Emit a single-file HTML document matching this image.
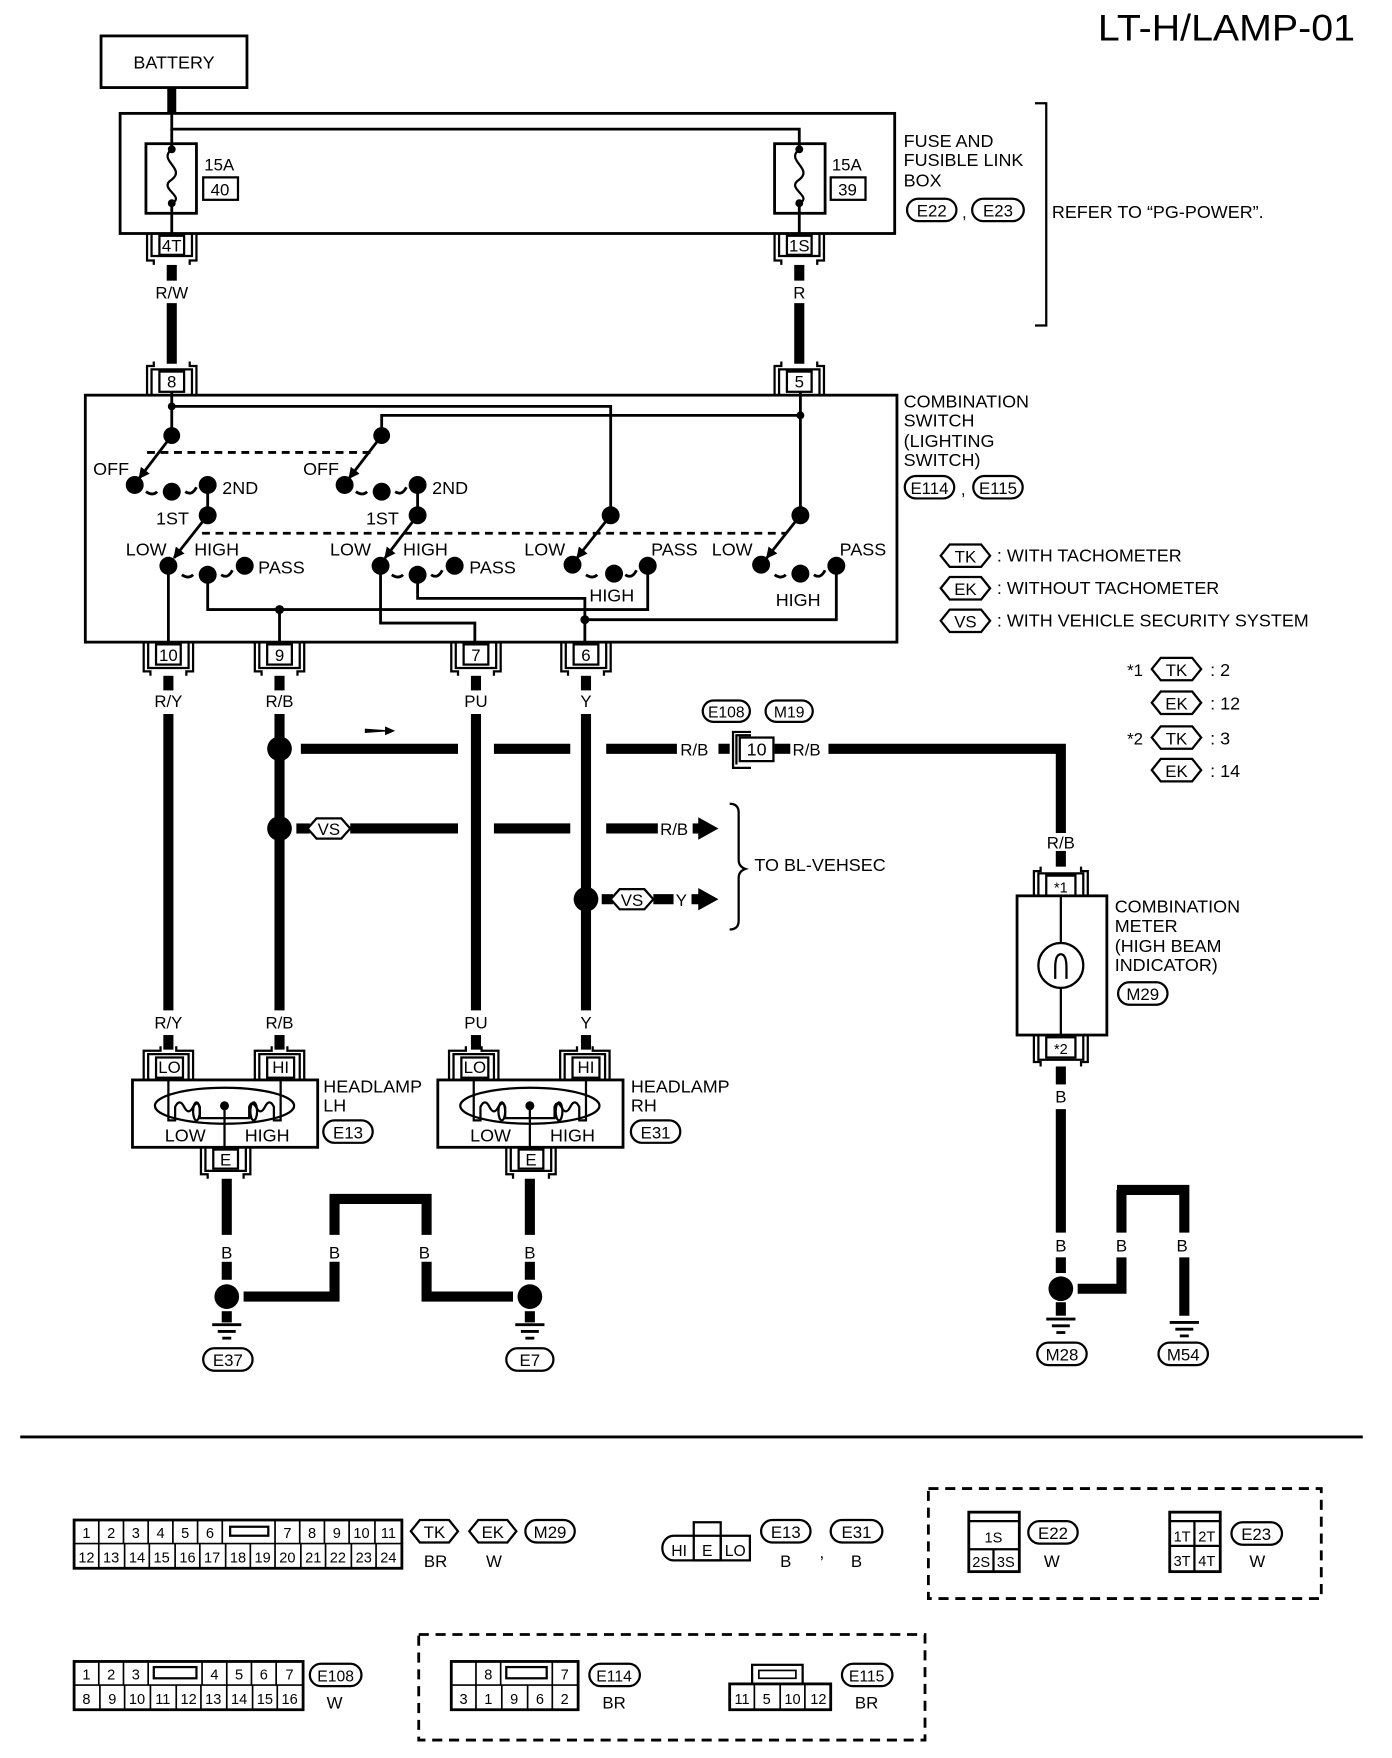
<!DOCTYPE html>
<html><head><meta charset="utf-8"><style>
html,body{margin:0;padding:0;background:#fff;}
svg{display:block;}
text{font-family:"Liberation Sans",sans-serif;fill:#000;}
</style></head><body>
<svg width="1392" height="1758" viewBox="0 0 1240 1566" preserveAspectRatio="none" xmlns="http://www.w3.org/2000/svg">
<defs><marker id="ah" viewBox="0 0 10 10" refX="9" refY="5" markerWidth="4" markerHeight="4" orient="auto"><path d="M0,0 L10,5 L0,10 z" fill="#000"/></marker></defs>
<g font-size="15">
<text x="978" y="36" font-size="33" textLength="229" lengthAdjust="spacingAndGlyphs">LT-H/LAMP-01</text>

<!-- battery -->
<rect x="90" y="32" width="130" height="46" fill="none" stroke="#000" stroke-width="2.5"/>
<text x="155" y="61" text-anchor="middle" font-size="16">BATTERY</text>
<line x1="153" y1="78" x2="153" y2="102" stroke="#000" stroke-width="8"/>

<!-- fuse box -->
<rect x="107" y="101" width="690" height="107" fill="none" stroke="#000" stroke-width="2.5"/>
<polyline points="153,102 153,115 712,115 712,133" fill="none" stroke="#000" stroke-width="2.5"/>
<line x1="153" y1="115" x2="153" y2="133" stroke="#000" stroke-width="2.5"/>
<rect x="130" y="128" width="45" height="62" fill="none" stroke="#000" stroke-width="2.5"/>
<rect x="690" y="128" width="45" height="62" fill="none" stroke="#000" stroke-width="2.5"/>
<path d="M153,133 C140,143 166,150 153,160 C140,168 166,175 153,181" fill="none" stroke="#000" stroke-width="2"/>
<path d="M712,133 C699,143 725,150 712,160 C699,168 725,175 712,181" fill="none" stroke="#000" stroke-width="2"/>
<circle cx="153" cy="133" r="3.5"/><circle cx="153" cy="181" r="3.5"/>
<circle cx="712" cy="133" r="3.5"/><circle cx="712" cy="181" r="3.5"/>
<line x1="153" y1="181" x2="153" y2="210" stroke="#000" stroke-width="2.5"/>
<line x1="712" y1="181" x2="712" y2="210" stroke="#000" stroke-width="2.5"/>
<text x="182" y="152">15A</text><rect x="181" y="158" width="31" height="20" fill="none" stroke="#000" stroke-width="2"/><text x="196" y="174" text-anchor="middle">40</text>
<text x="741" y="152">15A</text><rect x="740" y="158" width="31" height="20" fill="none" stroke="#000" stroke-width="2"/><text x="755" y="174" text-anchor="middle">39</text>
<text x="805" y="131" font-size="16">FUSE AND</text>
<text x="805" y="148" font-size="16">FUSIBLE LINK</text>
<text x="805" y="166" font-size="16">BOX</text>
<rect x="808" y="177" width="44" height="20" rx="10" fill="none" stroke="#000" stroke-width="2"/><text x="830" y="193" text-anchor="middle">E22</text>
<text x="857" y="194">,</text>
<rect x="866" y="177" width="46" height="20" rx="10" fill="none" stroke="#000" stroke-width="2"/><text x="889" y="193" text-anchor="middle">E23</text>
<polyline points="922,92 932,92 932,290 922,290" fill="none" stroke="#000" stroke-width="2"/>
<text x="937" y="194" font-size="16">REFER TO “PG-POWER”.</text>

<!-- connectors 4T / 1S -->
<g fill="none" stroke="#000" stroke-width="2">
<rect x="142" y="210" width="22" height="17"/><polyline points="131,208 131,232 137,232 137,236"/><polyline points="175,208 175,232 169,232 169,236"/><polyline points="135,208 135,228 171,228 171,208"/>
<rect x="701" y="210" width="22" height="17"/><polyline points="690,208 690,232 696,232 696,236"/><polyline points="734,208 734,232 728,232 728,236"/><polyline points="694,208 694,228 730,228 730,208"/>
</g>
<text x="153" y="224" text-anchor="middle">4T</text><text x="712" y="224" text-anchor="middle">1S</text>
<g stroke="#000" stroke-width="9">
<line x1="153" y1="236" x2="153" y2="250"/><line x1="153" y1="270" x2="153" y2="324"/>
<line x1="712" y1="236" x2="712" y2="250"/><line x1="712" y1="270" x2="712" y2="324"/>
</g>
<text x="153" y="266" text-anchor="middle">R/W</text><text x="712" y="266" text-anchor="middle">R</text>
<!-- connectors 8 / 5 -->
<g fill="none" stroke="#000" stroke-width="2">
<rect x="142" y="331" width="22" height="18"/><polyline points="131,352 131,326 137,326 137,322"/><polyline points="175,352 175,326 169,326 169,322"/><polyline points="135,352 135,329 171,329 171,352"/>
<rect x="701" y="331" width="22" height="18"/><polyline points="690,352 690,326 696,326 696,322"/><polyline points="734,352 734,326 728,326 728,322"/><polyline points="694,352 694,329 730,329 730,352"/>
</g>
<text x="153" y="345" text-anchor="middle">8</text><text x="712" y="345" text-anchor="middle">5</text>

<!-- combination switch -->
<rect x="76" y="352" width="723" height="220" fill="none" stroke="#000" stroke-width="2.5"/>
<g fill="none" stroke="#000" stroke-width="2.5">
<polyline points="153,349 153,388"/>
<polyline points="153,362 544,362 544,459"/>
<polyline points="340,388 340,370 713,370"/>
<polyline points="713,349 713,459"/>
<line x1="185" y1="432" x2="185" y2="459"/>
<line x1="372" y1="432" x2="372" y2="459"/>
<line x1="150" y1="504" x2="150" y2="574"/>
<polyline points="185,512 185,543 577,543 577,504"/>
<line x1="249" y1="543" x2="249" y2="574"/>
<polyline points="339,504 339,555 423,555 423,574"/>
<polyline points="372,512 372,533 521,533 521,574"/>
<polyline points="521,552 745,552 745,504"/>
</g>
<g fill="none" stroke="#000" stroke-width="2.5" marker-end="url(#ah)">
<line x1="153" y1="388" x2="124" y2="426"/>
<line x1="340" y1="388" x2="311" y2="426"/>
<line x1="185" y1="459" x2="155" y2="497"/>
<line x1="372" y1="459" x2="343" y2="497"/>
<line x1="544" y1="459" x2="514" y2="497"/>
<line x1="713" y1="459" x2="683" y2="497"/>
</g>
<g fill="none" stroke="#000" stroke-width="2.5" stroke-dasharray="7,5">
<line x1="131" y1="403" x2="332" y2="403"/>
<line x1="180" y1="475" x2="700" y2="475"/>
</g>
<g fill="none" stroke="#000" stroke-width="2.5">
<path d="M130,438 q6,4 10,0 M165,438 q6,4 10,-4"/>
<path d="M317,438 q6,4 10,0 M352,438 q6,4 10,-4"/>
<path d="M162,512 q6,4 10,0 M197,512 q6,4 10,-4"/>
<path d="M349,512 q6,4 10,0 M384,512 q6,4 10,-4"/>
<path d="M522,512 q6,4 10,0 M557,512 q6,4 10,-4"/>
<path d="M690,512 q6,4 10,0 M725,512 q6,4 10,-4"/>
</g>
<g>
<circle cx="153" cy="388" r="7.5"/><circle cx="340" cy="388" r="7.5"/>
<circle cx="153" cy="362" r="3.5"/><circle cx="713" cy="370" r="3.5"/>
<circle cx="120" cy="432" r="8"/><circle cx="153" cy="438" r="8"/><circle cx="185" cy="432" r="8"/>
<circle cx="307" cy="432" r="8"/><circle cx="340" cy="438" r="8"/><circle cx="372" cy="432" r="8"/>
<circle cx="185" cy="459" r="8"/><circle cx="372" cy="459" r="8"/><circle cx="544" cy="459" r="8"/><circle cx="713" cy="459" r="8"/>
<circle cx="150" cy="504" r="8"/><circle cx="185" cy="512" r="8"/><circle cx="218" cy="504" r="8"/>
<circle cx="339" cy="504" r="8"/><circle cx="372" cy="512" r="8"/><circle cx="405" cy="504" r="8"/>
<circle cx="510" cy="503" r="8"/><circle cx="547" cy="511" r="8"/><circle cx="577" cy="504" r="8"/>
<circle cx="678" cy="503" r="8"/><circle cx="713" cy="511" r="8"/><circle cx="745" cy="504" r="8"/>
<circle cx="249" cy="543" r="4"/><circle cx="521" cy="552" r="4"/>
</g>
<g font-size="16">
<text x="83" y="423">OFF</text><text x="198" y="440">2ND</text><text x="139" y="467">1ST</text>
<text x="270" y="423">OFF</text><text x="385" y="440">2ND</text><text x="326" y="467">1ST</text>
<text x="112" y="495">LOW</text><text x="173" y="495">HIGH</text><text x="230" y="511">PASS</text>
<text x="294" y="495">LOW</text><text x="359" y="495">HIGH</text><text x="418" y="511">PASS</text>
<text x="467" y="495">LOW</text><text x="580" y="495">PASS</text><text x="525" y="536">HIGH</text>
<text x="634" y="495">LOW</text><text x="748" y="495">PASS</text><text x="691" y="540">HIGH</text>
</g>
<text x="805" y="363" font-size="16">COMBINATION</text>
<text x="805" y="380" font-size="16">SWITCH</text>
<text x="805" y="398" font-size="16">(LIGHTING</text>
<text x="805" y="415" font-size="16">SWITCH)</text>
<rect x="806" y="424" width="44" height="20" rx="10" fill="none" stroke="#000" stroke-width="2"/><text x="828" y="440" text-anchor="middle">E114</text>
<text x="856" y="441">,</text>
<rect x="867" y="424" width="44" height="20" rx="10" fill="none" stroke="#000" stroke-width="2"/><text x="889" y="440" text-anchor="middle">E115</text>

<!-- legend -->
<g fill="none" stroke="#000" stroke-width="2">
<polygon points="838,495 846,485 874,485 882,495 874,505 846,505"/>
<polygon points="838,524 846,514 874,514 882,524 874,534 846,534"/>
<polygon points="838,553 846,543 874,543 882,553 874,563 846,563"/>
</g>
<text x="860" y="501" text-anchor="middle">TK</text><text x="860" y="530" text-anchor="middle">EK</text><text x="860" y="559" text-anchor="middle">VS</text>
<text x="888" y="500" font-size="16">: WITH TACHOMETER</text>
<text x="888" y="529" font-size="16">: WITHOUT TACHOMETER</text>
<text x="888" y="558" font-size="16">: WITH VEHICLE SECURITY SYSTEM</text>
<g fill="none" stroke="#000" stroke-width="2">
<polygon points="1026,596 1034,586 1062,586 1070,596 1062,606 1034,606"/>
<polygon points="1026,626 1034,616 1062,616 1070,626 1062,636 1034,636"/>
<polygon points="1026,657 1034,647 1062,647 1070,657 1062,667 1034,667"/>
<polygon points="1026,686 1034,676 1062,676 1070,686 1062,696 1034,696"/>
</g>
<text x="1048" y="602" text-anchor="middle">TK</text><text x="1048" y="632" text-anchor="middle">EK</text>
<text x="1048" y="663" text-anchor="middle">TK</text><text x="1048" y="692" text-anchor="middle">EK</text>
<text x="1004" y="602">*1</text><text x="1078" y="602" font-size="16">:  2</text>
<text x="1078" y="632" font-size="16">: 12</text>
<text x="1004" y="663">*2</text><text x="1078" y="663" font-size="16">:  3</text>
<text x="1078" y="692" font-size="16">: 14</text>

<!-- bottom connectors of switch -->
<g fill="none" stroke="#000" stroke-width="2">
<rect x="139" y="574" width="22" height="18"/><polyline points="128,572 128,598 134,598 134,602"/><polyline points="172,572 172,598 166,598 166,602"/><polyline points="132,572 132,595 168,595 168,572"/>
<rect x="238" y="574" width="22" height="18"/><polyline points="227,572 227,598 233,598 233,602"/><polyline points="271,572 271,598 265,598 265,602"/><polyline points="231,572 231,595 267,595 267,572"/>
<rect x="413" y="574" width="22" height="18"/><polyline points="402,572 402,598 408,598 408,602"/><polyline points="446,572 446,598 440,598 440,602"/><polyline points="406,572 406,595 442,595 442,572"/>
<rect x="511" y="574" width="22" height="18"/><polyline points="500,572 500,598 506,598 506,602"/><polyline points="544,572 544,598 538,598 538,602"/><polyline points="504,572 504,595 540,595 540,572"/>
</g>
<text x="150" y="589" text-anchor="middle">10</text><text x="249" y="589" text-anchor="middle">9</text><text x="424" y="589" text-anchor="middle">7</text><text x="522" y="589" text-anchor="middle">6</text>
<text x="150" y="630" text-anchor="middle">R/Y</text><text x="249" y="630" text-anchor="middle">R/B</text><text x="424" y="630" text-anchor="middle">PU</text><text x="522" y="630" text-anchor="middle">Y</text>
<text x="150" y="916" text-anchor="middle">R/Y</text><text x="249" y="916" text-anchor="middle">R/B</text><text x="424" y="916" text-anchor="middle">PU</text><text x="522" y="916" text-anchor="middle">Y</text>

<g stroke="#000" stroke-width="9" fill="none">
<line x1="150" y1="602" x2="150" y2="615"/><line x1="150" y1="636" x2="150" y2="900"/>
<line x1="249" y1="602" x2="249" y2="615"/><line x1="249" y1="636" x2="249" y2="900"/>
<line x1="424" y1="602" x2="424" y2="615"/><line x1="424" y1="636" x2="424" y2="900"/>
<line x1="522" y1="602" x2="522" y2="615"/><line x1="522" y1="636" x2="522" y2="900"/>
<line x1="268" y1="667" x2="408" y2="667"/><line x1="440" y1="667" x2="508" y2="667"/><line x1="540" y1="667" x2="603" y2="667"/>
<line x1="640" y1="667" x2="650" y2="667"/><line x1="690" y1="667" x2="704" y2="667"/>
<polyline points="738,667 945,667 945,742"/>
<line x1="945" y1="758" x2="945" y2="772"/>
<line x1="264" y1="738" x2="276" y2="738"/><line x1="312" y1="738" x2="408" y2="738"/><line x1="440" y1="738" x2="508" y2="738"/><line x1="540" y1="738" x2="586" y2="738"/>
<line x1="617" y1="738" x2="624" y2="738"/>
<line x1="536" y1="801" x2="546" y2="801"/><line x1="582" y1="801" x2="600" y2="801"/><line x1="616" y1="801" x2="624" y2="801"/>
</g>
<polygon points="622,728 640,738 622,748"/>
<polygon points="622,791 640,801 622,811"/>
<polygon points="325,649 352,651 325,653"/><polygon points="343,647 352,651 343,655"/>
<circle cx="249" cy="667" r="11"/><circle cx="249" cy="738" r="11"/><circle cx="522" cy="801" r="11"/>
<g fill="#fff" stroke="#000" stroke-width="2">
<polygon points="274,738 282,729 304,729 312,738 304,747 282,747"/>
<polygon points="544,801 552,792 574,792 582,801 574,810 552,810"/>
</g>
<text x="293" y="744" text-anchor="middle">VS</text><text x="563" y="807" text-anchor="middle">VS</text>
<text x="606" y="673">R/B</text><text x="706" y="673">R/B</text><text x="588" y="744">R/B</text><text x="602" y="807">Y</text>
<g fill="none" stroke="#000" stroke-width="2">
<rect x="659" y="657" width="30" height="21"/><polyline points="669,652 653,652 653,684 669,684"/><polyline points="669,655 656,655 656,681"/>
<rect x="626" y="624" width="42" height="19" rx="9.5"/><rect x="682" y="624" width="42" height="19" rx="9.5"/>
<path d="M650,716 q8,0 8,8 v42 q0,6 6,8 q-6,2 -6,8 v38 q0,8 -8,8"/>
</g>
<text x="674" y="673" text-anchor="middle" font-size="16">10</text>
<text x="647" y="639" text-anchor="middle" font-size="14">E108</text><text x="703" y="639" text-anchor="middle" font-size="14">M19</text>
<text x="672" y="776" font-size="16">TO BL-VEHSEC</text>

<!-- combination meter -->
<text x="945" y="756" text-anchor="middle">R/B</text>
<g fill="none" stroke="#000" stroke-width="2">
<rect x="932" y="780" width="26" height="18"/><polyline points="921,798 921,776 927,776 927,772"/><polyline points="969,798 969,776 963,776 963,772"/><polyline points="925,798 925,778 965,778 965,798"/>
<rect x="906" y="798" width="80" height="124" stroke-width="2.5"/>
<circle cx="945" cy="860" r="20"/>
<path d="M940,872 v-10 q0,-12 5,-12 q5,0 5,12 v10" stroke-width="2"/>
<line x1="945" y1="798" x2="945" y2="840"/><line x1="945" y1="880" x2="945" y2="922"/>
<rect x="932" y="924" width="26" height="18"/><polyline points="921,922 921,946 927,946 927,950"/><polyline points="969,922 969,946 963,946 963,950"/><polyline points="925,922 925,944 965,944 965,922"/>
</g>
<text x="945" y="795" text-anchor="middle" font-size="13">*1</text><text x="945" y="939" text-anchor="middle" font-size="13">*2</text>
<text x="993" y="813" font-size="16">COMBINATION</text><text x="993" y="830" font-size="16">METER</text>
<text x="993" y="848" font-size="16">(HIGH BEAM</text><text x="993" y="865" font-size="16">INDICATOR)</text>
<rect x="996" y="875" width="44" height="20" rx="10" fill="none" stroke="#000" stroke-width="2"/><text x="1018" y="891" text-anchor="middle">M29</text>
<text x="945" y="982" text-anchor="middle">B</text>
<g stroke="#000" stroke-width="9" fill="none">
<line x1="945" y1="950" x2="945" y2="966"/><line x1="945" y1="988" x2="945" y2="1098"/><line x1="945" y1="1120" x2="945" y2="1134"/>
<polyline points="960,1148 999,1148 999,1120"/><line x1="999" y1="1098" x2="999" y2="1060"/>
<polyline points="995,1060 1055,1060 1055,1098"/><line x1="1055" y1="1120" x2="1055" y2="1172"/>
<line x1="945" y1="1160" x2="945" y2="1172"/>
</g>
<circle cx="945" cy="1148" r="11"/>
<text x="945" y="1115" text-anchor="middle">B</text><text x="999" y="1115" text-anchor="middle">B</text><text x="1053" y="1115" text-anchor="middle">B</text>
<g stroke="#000" stroke-width="2.5">
<line x1="932" y1="1175" x2="958" y2="1175"/><line x1="937" y1="1181" x2="953" y2="1181"/><line x1="941" y1="1187" x2="949" y2="1187"/>
<line x1="1042" y1="1178" x2="1068" y2="1178"/><line x1="1047" y1="1184" x2="1063" y2="1184"/><line x1="1051" y1="1190" x2="1059" y2="1190"/>
</g>
<g fill="none" stroke="#000" stroke-width="2"><rect x="924" y="1196" width="44" height="20" rx="10"/><rect x="1032" y="1196" width="44" height="20" rx="10"/></g>
<text x="946" y="1212" text-anchor="middle">M28</text><text x="1054" y="1212" text-anchor="middle">M54</text>

<!-- headlamps -->
<g fill="none" stroke="#000" stroke-width="2">
<rect x="118" y="962" width="165" height="60" stroke-width="2.5"/>
<rect x="139" y="942" width="24" height="18"/><polyline points="128,962 128,936 143,936 143,932"/><polyline points="172,962 172,936 157,936 157,932"/><polyline points="132,962 132,939 168,939 168,962"/>
<rect x="238" y="942" width="24" height="18"/><polyline points="227,962 227,936 242,936 242,932"/><polyline points="271,962 271,936 256,936 256,932"/><polyline points="231,962 231,939 267,939 267,962"/>
<ellipse cx="200" cy="985" rx="62" ry="16"/>
<path d="M150,962 v36 h6 v-12 q4,-8 8,0 q4,8 8,0 q4,-6 6,0 v10 h22 M250,962 v36 h-6 v-12 q-4,-8 -8,0 q-4,8 -8,0 q-4,-6 -6,0 v10 h-22"/>
<ellipse cx="175" cy="990" rx="3" ry="8"/><ellipse cx="226" cy="990" rx="3" ry="8"/>
<line x1="200" y1="985" x2="200" y2="1022"/>
<rect x="190" y="1024" width="22" height="17"/><polyline points="179,1022 179,1046 185,1046 185,1050"/><polyline points="223,1022 223,1046 217,1046 217,1050"/><polyline points="183,1022 183,1043 219,1043 219,1022"/>

<rect x="390" y="962" width="165" height="60" stroke-width="2.5"/>
<rect x="411" y="942" width="24" height="18"/><polyline points="400,962 400,936 415,936 415,932"/><polyline points="444,962 444,936 429,936 429,932"/><polyline points="404,962 404,939 440,939 440,962"/>
<rect x="510" y="942" width="24" height="18"/><polyline points="499,962 499,936 514,936 514,932"/><polyline points="543,962 543,936 528,936 528,932"/><polyline points="503,962 503,939 539,939 539,962"/>
<ellipse cx="472" cy="985" rx="62" ry="16"/>
<path d="M422,962 v36 h6 v-12 q4,-8 8,0 q4,8 8,0 q4,-6 6,0 v10 h22 M522,962 v36 h-6 v-12 q-4,-8 -8,0 q-4,8 -8,0 q-4,-6 -6,0 v10 h-22"/>
<ellipse cx="447" cy="990" rx="3" ry="8"/><ellipse cx="498" cy="990" rx="3" ry="8"/>
<line x1="472" y1="985" x2="472" y2="1022"/>
<rect x="462" y="1024" width="22" height="17"/><polyline points="451,1022 451,1046 457,1046 457,1050"/><polyline points="495,1022 495,1046 489,1046 489,1050"/><polyline points="455,1022 455,1043 491,1043 491,1022"/>
<rect x="288" y="998" width="44" height="20" rx="10"/><rect x="562" y="998" width="44" height="20" rx="10"/>
</g>
<circle cx="200" cy="985" r="4"/><circle cx="472" cy="985" r="4"/>
<g stroke="#000" stroke-width="9"><line x1="150" y1="922" x2="150" y2="935"/><line x1="249" y1="922" x2="249" y2="935"/><line x1="424" y1="922" x2="424" y2="935"/><line x1="522" y1="922" x2="522" y2="935"/></g>
<text x="151" y="956" text-anchor="middle">LO</text><text x="250" y="956" text-anchor="middle">HI</text>
<text x="423" y="956" text-anchor="middle">LO</text><text x="522" y="956" text-anchor="middle">HI</text>
<text x="165" y="1017" text-anchor="middle" font-size="16">LOW</text><text x="238" y="1017" text-anchor="middle" font-size="16">HIGH</text>
<text x="437" y="1017" text-anchor="middle" font-size="16">LOW</text><text x="510" y="1017" text-anchor="middle" font-size="16">HIGH</text>
<text x="201" y="1038" text-anchor="middle">E</text><text x="473" y="1038" text-anchor="middle">E</text>
<text x="288" y="973" font-size="16">HEADLAMP</text><text x="288" y="990" font-size="16">LH</text>
<text x="562" y="973" font-size="16">HEADLAMP</text><text x="562" y="990" font-size="16">RH</text>
<text x="310" y="1014" text-anchor="middle">E13</text><text x="584" y="1014" text-anchor="middle">E31</text>

<g stroke="#000" stroke-width="9" fill="none">
<line x1="202" y1="1050" x2="202" y2="1100"/><line x1="202" y1="1124" x2="202" y2="1140"/>
<line x1="472" y1="1050" x2="472" y2="1100"/><line x1="472" y1="1124" x2="472" y2="1140"/>
<polyline points="217,1155 298,1155 298,1124"/><polyline points="298,1100 298,1068 380,1068 380,1100"/><polyline points="380,1124 380,1155 457,1155"/>
<line x1="202" y1="1168" x2="202" y2="1178"/><line x1="472" y1="1168" x2="472" y2="1178"/>
</g>
<circle cx="202" cy="1155" r="11"/><circle cx="472" cy="1155" r="11"/>
<text x="202" y="1121" text-anchor="middle">B</text><text x="298" y="1121" text-anchor="middle">B</text><text x="378" y="1121" text-anchor="middle">B</text><text x="472" y="1121" text-anchor="middle">B</text>
<g stroke="#000" stroke-width="2.5">
<line x1="189" y1="1180" x2="215" y2="1180"/><line x1="194" y1="1186" x2="210" y2="1186"/><line x1="198" y1="1192" x2="206" y2="1192"/>
<line x1="459" y1="1180" x2="485" y2="1180"/><line x1="464" y1="1186" x2="480" y2="1186"/><line x1="468" y1="1192" x2="476" y2="1192"/>
</g>
<g fill="none" stroke="#000" stroke-width="2"><rect x="181" y="1201" width="44" height="20" rx="10"/><rect x="451" y="1201" width="42" height="20" rx="10"/></g>
<text x="203" y="1217" text-anchor="middle">E37</text><text x="472" y="1217" text-anchor="middle">E7</text>

<line x1="18" y1="1280" x2="1214" y2="1280" stroke="#000" stroke-width="2.5"/>

<!-- bottom connector diagrams -->
<g fill="none" stroke="#000" stroke-width="1.5">
<rect x="66" y="1354" width="292" height="43" stroke-width="2.5"/>
<line x1="66" y1="1375" x2="358" y2="1375"/>
<line x1="88" y1="1354" x2="88" y2="1375"/><line x1="110" y1="1354" x2="110" y2="1375"/><line x1="132" y1="1354" x2="132" y2="1375"/><line x1="154" y1="1354" x2="154" y2="1375"/><line x1="176" y1="1354" x2="176" y2="1375"/><line x1="198" y1="1354" x2="198" y2="1375"/>
<line x1="245" y1="1354" x2="245" y2="1375"/><line x1="267" y1="1354" x2="267" y2="1375"/><line x1="289" y1="1354" x2="289" y2="1375"/><line x1="311" y1="1354" x2="311" y2="1375"/><line x1="334" y1="1354" x2="334" y2="1375"/>
<rect x="205" y="1360" width="34" height="8" stroke-width="2"/>
<line x1="88" y1="1375" x2="88" y2="1397"/><line x1="111" y1="1375" x2="111" y2="1397"/><line x1="133" y1="1375" x2="133" y2="1397"/><line x1="156" y1="1375" x2="156" y2="1397"/><line x1="178" y1="1375" x2="178" y2="1397"/><line x1="201" y1="1375" x2="201" y2="1397"/><line x1="223" y1="1375" x2="223" y2="1397"/><line x1="245" y1="1375" x2="245" y2="1397"/><line x1="268" y1="1375" x2="268" y2="1397"/><line x1="290" y1="1375" x2="290" y2="1397"/><line x1="313" y1="1375" x2="313" y2="1397"/><line x1="335" y1="1375" x2="335" y2="1397"/>
<polygon points="366,1364 374,1354 400,1354 408,1364 400,1374 374,1374" stroke-width="2"/>
<polygon points="418,1364 426,1354 452,1354 460,1364 452,1374 426,1374" stroke-width="2"/>
<rect x="468" y="1354" width="44" height="20" rx="10" stroke-width="2"/>
</g>
<g font-size="13" text-anchor="middle">
<text x="77" y="1370">1</text><text x="99" y="1370">2</text><text x="121" y="1370">3</text><text x="143" y="1370">4</text><text x="165" y="1370">5</text><text x="187" y="1370">6</text>
<text x="256" y="1370">7</text><text x="278" y="1370">8</text><text x="300" y="1370">9</text><text x="322" y="1370">10</text><text x="346" y="1370">11</text>
<text x="77" y="1392">12</text><text x="99" y="1392">13</text><text x="122" y="1392">14</text><text x="144" y="1392">15</text><text x="167" y="1392">16</text><text x="189" y="1392">17</text><text x="212" y="1392">18</text><text x="234" y="1392">19</text><text x="256" y="1392">20</text><text x="279" y="1392">21</text><text x="301" y="1392">22</text><text x="324" y="1392">23</text><text x="346" y="1392">24</text>
</g>
<text x="387" y="1370" text-anchor="middle">TK</text><text x="439" y="1370" text-anchor="middle">EK</text><text x="490" y="1370" text-anchor="middle">M29</text>
<text x="388" y="1396" text-anchor="middle">BR</text><text x="440" y="1396" text-anchor="middle">W</text>

<g fill="none" stroke="#000" stroke-width="2">
<path d="M618,1368 H600 a10,11 0 0 0 0,22 H668 V1368 H642"/>
<rect x="618" y="1356" width="24" height="34"/>
<line x1="618" y1="1368" x2="642" y2="1368"/>
<line x1="642" y1="1368" x2="642" y2="1390"/>
<rect x="678" y="1354" width="44" height="20" rx="10"/><rect x="740" y="1354" width="46" height="20" rx="10"/>
</g>
<text x="605" y="1386" text-anchor="middle" font-size="14">HI</text><text x="630" y="1386" text-anchor="middle" font-size="14">E</text><text x="655" y="1386" text-anchor="middle" font-size="14">LO</text>
<text x="700" y="1370" text-anchor="middle">E13</text><text x="763" y="1370" text-anchor="middle">E31</text>
<text x="700" y="1396" text-anchor="middle">B</text><text x="730" y="1388">,</text><text x="763" y="1396" text-anchor="middle">B</text>

<rect x="827" y="1326" width="350" height="98" fill="none" stroke="#000" stroke-width="2.5" stroke-dasharray="9,6"/>
<g fill="none" stroke="#000" stroke-width="2">
<rect x="863" y="1347" width="45" height="53" stroke-width="2.5"/><line x1="863" y1="1355" x2="908" y2="1355"/><line x1="863" y1="1380" x2="908" y2="1380"/><line x1="885" y1="1380" x2="885" y2="1400"/>
<rect x="1042" y="1347" width="45" height="53" stroke-width="2.5"/><line x1="1042" y1="1355" x2="1087" y2="1355"/><line x1="1042" y1="1377" x2="1087" y2="1377"/><line x1="1064" y1="1355" x2="1064" y2="1400"/>
<rect x="916" y="1355" width="44" height="20" rx="10"/><rect x="1097" y="1356" width="45" height="20" rx="10"/>
</g>
<g font-size="13" text-anchor="middle"><text x="885" y="1374">1S</text><text x="874" y="1396">2S</text><text x="896" y="1396">3S</text><text x="1053" y="1373">1T</text><text x="1075" y="1373">2T</text><text x="1053" y="1395">3T</text><text x="1075" y="1395">4T</text></g>
<text x="938" y="1371" text-anchor="middle">E22</text><text x="1119" y="1372" text-anchor="middle">E23</text>
<text x="937" y="1396" text-anchor="middle">W</text><text x="1120" y="1396" text-anchor="middle">W</text>

<g fill="none" stroke="#000" stroke-width="1.5">
<rect x="66" y="1480" width="204" height="43" stroke-width="2.5"/>
<line x1="66" y1="1501" x2="270" y2="1501"/>
<line x1="88" y1="1480" x2="88" y2="1501"/><line x1="110" y1="1480" x2="110" y2="1501"/><line x1="132" y1="1480" x2="132" y2="1501"/><line x1="180" y1="1480" x2="180" y2="1501"/><line x1="202" y1="1480" x2="202" y2="1501"/><line x1="224" y1="1480" x2="224" y2="1501"/><line x1="246" y1="1480" x2="246" y2="1501"/>
<rect x="137" y="1485" width="38" height="10" stroke-width="2"/>
<line x1="89" y1="1501" x2="89" y2="1523"/><line x1="111" y1="1501" x2="111" y2="1523"/><line x1="134" y1="1501" x2="134" y2="1523"/><line x1="157" y1="1501" x2="157" y2="1523"/><line x1="179" y1="1501" x2="179" y2="1523"/><line x1="202" y1="1501" x2="202" y2="1523"/><line x1="225" y1="1501" x2="225" y2="1523"/><line x1="247" y1="1501" x2="247" y2="1523"/>
<rect x="276" y="1482" width="46" height="20" rx="10" stroke-width="2"/>
</g>
<g font-size="13" text-anchor="middle">
<text x="77" y="1496">1</text><text x="99" y="1496">2</text><text x="121" y="1496">3</text><text x="191" y="1496">4</text><text x="213" y="1496">5</text><text x="235" y="1496">6</text><text x="258" y="1496">7</text>
<text x="77" y="1518">8</text><text x="100" y="1518">9</text><text x="122" y="1518">10</text><text x="145" y="1518">11</text><text x="168" y="1518">12</text><text x="190" y="1518">13</text><text x="213" y="1518">14</text><text x="236" y="1518">15</text><text x="258" y="1518">16</text>
</g>
<text x="299" y="1498" text-anchor="middle" font-size="14">E108</text><text x="298" y="1522" text-anchor="middle">W</text>

<rect x="373" y="1456" width="451" height="94" fill="none" stroke="#000" stroke-width="2.5" stroke-dasharray="9,6"/>
<g fill="none" stroke="#000" stroke-width="1.5">
<rect x="402" y="1480" width="113" height="43" stroke-width="2.5"/>
<line x1="402" y1="1501" x2="515" y2="1501"/>
<line x1="424" y1="1480" x2="424" y2="1523"/><line x1="446" y1="1480" x2="446" y2="1501"/><line x1="492" y1="1480" x2="492" y2="1501"/>
<rect x="451" y="1485" width="36" height="10" stroke-width="2"/>
<line x1="447" y1="1501" x2="447" y2="1523"/><line x1="470" y1="1501" x2="470" y2="1523"/><line x1="492" y1="1501" x2="492" y2="1523"/>
<rect x="525" y="1482" width="45" height="20" rx="10" stroke-width="2"/>
<rect x="650" y="1500" width="90" height="23" stroke-width="2.5"/>
<rect x="670" y="1483" width="45" height="17" stroke-width="2"/>
<rect x="676" y="1488" width="33" height="7" stroke-width="1.5"/>
<line x1="672" y1="1500" x2="672" y2="1523"/><line x1="695" y1="1500" x2="695" y2="1523"/><line x1="717" y1="1500" x2="717" y2="1523"/>
<rect x="750" y="1482" width="45" height="20" rx="10" stroke-width="2"/>
</g>
<g font-size="13" text-anchor="middle">
<text x="435" y="1496">8</text><text x="503" y="1496">7</text>
<text x="413" y="1518">3</text><text x="435" y="1518">1</text><text x="458" y="1518">9</text><text x="481" y="1518">6</text><text x="503" y="1518">2</text>
<text x="661" y="1518">11</text><text x="683" y="1518">5</text><text x="706" y="1518">10</text><text x="729" y="1518">12</text>
</g>
<text x="547" y="1498" text-anchor="middle" font-size="14">E114</text><text x="547" y="1522" text-anchor="middle">BR</text>
<text x="772" y="1498" text-anchor="middle" font-size="14">E115</text><text x="772" y="1522" text-anchor="middle">BR</text>
</g>
</svg>
</body></html>
